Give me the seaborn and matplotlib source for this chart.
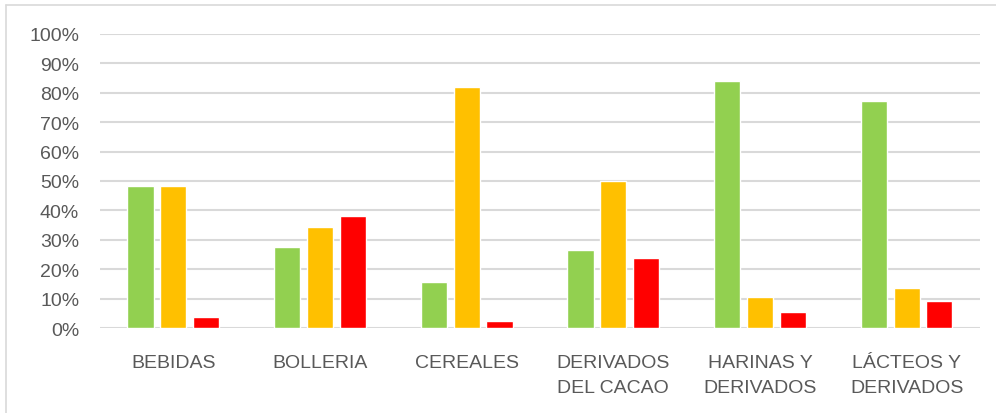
import matplotlib
matplotlib.use("Agg")
import matplotlib.pyplot as plt
import pandas as pd
import seaborn as sns
from matplotlib.lines import Line2D
from matplotlib.ticker import PercentFormatter

categories = ["BEBIDAS", "BOLLERIA", "CEREALES", "DERIVADOS\nDEL CACAO",
              "HARINAS Y\nDERIVADOS", "LÁCTEOS Y\nDERIVADOS"]
series_names = ["Serie 1", "Serie 2", "Serie 3"]
green_vals = [0.482, 0.276, 0.155, 0.264, 0.840, 0.772]
orange_vals = [0.482, 0.344, 0.821, 0.500, 0.105, 0.137]
red_vals = [0.037, 0.380, 0.023, 0.237, 0.053, 0.092]
colors = ["#92D050", "#FFC000", "#FF0000"]
yticks = [i / 10 for i in range(11)]

rows = []
for name, vals in zip(series_names, [green_vals, orange_vals, red_vals]):
    for cat, v in zip(categories, vals):
        rows.append({"cat": cat, "serie": name, "value": v})
df = pd.DataFrame(rows)

sns.set_style("white")
plt.rcParams["font.family"] = ["Liberation Sans", "DejaVu Sans"]

fig = plt.figure(figsize=(9.96, 4.14), dpi=100)
ax = fig.add_axes([0.1004, 0.2053, 0.8835, 0.7102])

sns.barplot(data=df, x="cat", y="value", hue="serie", order=categories,
            hue_order=series_names, palette=colors, width=0.67, gap=0.2,
            saturation=1, legend=False, ax=ax)

ax.set_ylim(0, 1.0)
ax.set_xlim(-0.5, 5.5)
ax.set_yticks(yticks)
ax.yaxis.set_major_formatter(PercentFormatter(1.0, decimals=0))
ax.grid(axis="y", color="#D9D9D9", linewidth=1.5)
ax.set_axisbelow(True)
for s in ax.spines.values():
    s.set_visible(False)
ax.tick_params(axis="both", length=0, labelsize=14, colors="#595959")
ax.tick_params(axis="y", pad=15)
ax.tick_params(axis="x", pad=19)
for lab in ax.get_xticklabels():
    lab.set_linespacing(1.55)
ax.set_xlabel("")
ax.set_ylabel("")

# chart area border (only left and top edges visible)
fig.lines.append(Line2D([0.0065, 0.0065], [0, 0.9855], transform=fig.transFigure,
                        color="#D9D9D9", linewidth=1.2))
fig.lines.append(Line2D([0.0065, 1], [0.9855, 0.9855], transform=fig.transFigure,
                        color="#D9D9D9", linewidth=1.2))

fig.savefig("out.png", dpi=100)
